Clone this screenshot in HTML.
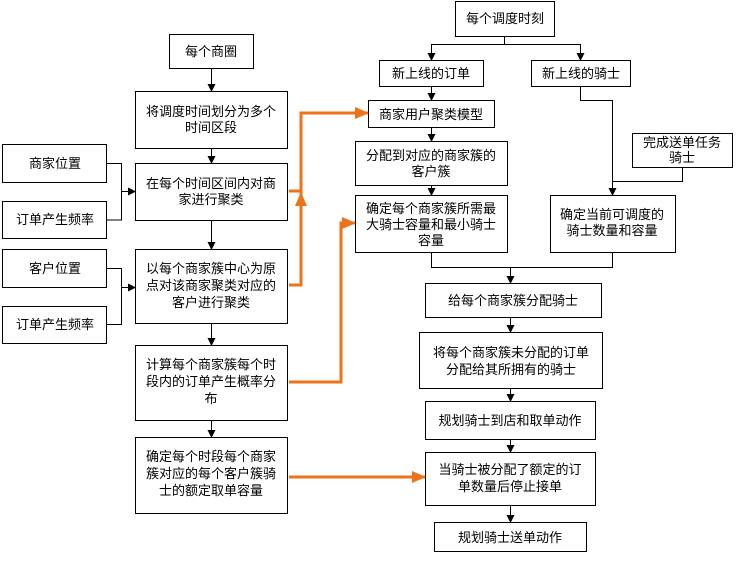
<!DOCTYPE html>
<html><head><meta charset="utf-8"><style>
body{margin:0;background:#fff}
svg text{font-family:"Liberation Sans","Noto Sans CJK SC",sans-serif;font-size:13px;fill:#000;text-anchor:middle}
</style></head><body>
<svg width="739" height="557" viewBox="0 0 739 557" xmlns="http://www.w3.org/2000/svg">
<defs>
<marker id="a" markerWidth="8" markerHeight="8" refX="7" refY="4" orient="auto" markerUnits="userSpaceOnUse"><path d="M0,0 L8,4 L0,8 z" fill="#000"/></marker>
<marker id="o" markerWidth="14" markerHeight="12" refX="13" refY="6" orient="auto" markerUnits="userSpaceOnUse"><path d="M0,0 L14,6 L0,12 z" fill="#ee7318"/></marker>
</defs>
<g fill="#fff" stroke="#000" stroke-width="1">
<rect x="169.5" y="34.5" width="84" height="34"/>
<rect x="135.5" y="91.5" width="152" height="57"/>
<rect x="135.5" y="163.5" width="152" height="57"/>
<rect x="135.5" y="249.5" width="152" height="74"/>
<rect x="135.5" y="345.5" width="152" height="75"/>
<rect x="135.5" y="437.5" width="152" height="76"/>
<rect x="2.5" y="144.5" width="104" height="38"/>
<rect x="2.5" y="201.5" width="104" height="37"/>
<rect x="2.5" y="249.5" width="104" height="38"/>
<rect x="2.5" y="306.5" width="104" height="37"/>
<rect x="455.5" y="1.5" width="99" height="35"/>
<rect x="379.5" y="60.5" width="104" height="26"/>
<rect x="531.5" y="60.5" width="99" height="26"/>
<rect x="368.5" y="100.5" width="126" height="27"/>
<rect x="355.5" y="141.5" width="152" height="44"/>
<rect x="355.5" y="195.5" width="152" height="57"/>
<rect x="632.5" y="133.5" width="100" height="34"/>
<rect x="550.5" y="195.5" width="125" height="57"/>
<rect x="425.5" y="283.5" width="176" height="34"/>
<rect x="419.5" y="332.5" width="183" height="56"/>
<rect x="425.5" y="401.5" width="170" height="38"/>
<rect x="425.5" y="452.5" width="170" height="53"/>
<rect x="434.5" y="522.5" width="152" height="29"/>
</g>
<g fill="none" stroke="#000" stroke-width="1">
<path d="M211.5,68 V91" marker-end="url(#a)"/>
<path d="M211.5,148 V163" marker-end="url(#a)"/>
<path d="M211.5,220 V249" marker-end="url(#a)"/>
<path d="M211.5,323 V345" marker-end="url(#a)"/>
<path d="M211.5,420 V437" marker-end="url(#a)"/>
<path d="M106,163.5 H121.5 V220 H106 M121.5,191.5 H135" />
<path d="M121,191.5 H135" marker-end="url(#a)"/>
<path d="M106,268.5 H121.5 V324.5 H106"/>
<path d="M121,287.5 H135" marker-end="url(#a)"/>
<path d="M504.5,36 V44.5 H431.5 V60 M504.5,44.5 H580.5 V60"/>
<path d="M431.5,50 V60" marker-end="url(#a)"/>
<path d="M580.5,50 V60" marker-end="url(#a)"/>
<path d="M431.5,86 V100" marker-end="url(#a)"/>
<path d="M431.5,127 V141" marker-end="url(#a)"/>
<path d="M431.5,185 V195" marker-end="url(#a)"/>
<path d="M580.5,86 V100.5 H612.5 V195"/>
<path d="M612.5,180 V195" marker-end="url(#a)"/>
<path d="M682.5,167 V181.5 H612.5"/>
<path d="M431.5,252 V267.5 H612.5 V252 M510.5,267.5 V283"/>
<path d="M510.5,270 V283" marker-end="url(#a)"/>
<path d="M510.5,317 V332" marker-end="url(#a)"/>
<path d="M510.5,388 V401" marker-end="url(#a)"/>
<path d="M510.5,439 V452" marker-end="url(#a)"/>
<path d="M510.5,505 V522" marker-end="url(#a)"/>
</g>
<g fill="none" stroke="#ee7318" stroke-width="3">
<path d="M289,191 H301"/>
<path d="M289,285 H301 V113 H368" marker-end="url(#o)"/>
<path d="M301,240 V193" marker-end="url(#o)"/>
<path d="M289,382 H341 V223 H355" marker-end="url(#o)"/>
<path d="M289,477 H425" marker-end="url(#o)"/>
</g>
<text x="211" y="56">每个商圈</text>
<text x="211" y="116">将调度时间划分为多个</text><text x="211" y="132">时间区段</text>
<text x="211" y="188">在每个时间区间内对商</text><text x="211" y="204">家进行聚类</text>
<text x="211" y="273">以每个商家簇中心为原</text><text x="211" y="290">点对该商家聚类对应的</text><text x="211" y="307">客户进行聚类</text>
<text x="211" y="369">计算每个商家簇每个时</text><text x="211" y="386">段内的订单产生概率分</text><text x="211" y="403">布</text>
<text x="211" y="461">确定每个时段每个商家</text><text x="211" y="478">簇对应的每个客户簇骑</text><text x="211" y="495">士的额定取单容量</text>
<text x="55" y="168">商家位置</text>
<text x="55" y="224">订单产生频率</text>
<text x="55" y="273">客户位置</text>
<text x="55" y="329">订单产生频率</text>
<text x="505" y="23">每个调度时刻</text>
<text x="431" y="78">新上线的订单</text>
<text x="581" y="78">新上线的骑士</text>
<text x="431" y="119">商家用户聚类模型</text>
<text x="431" y="160">分配到对应的商家簇的</text><text x="431" y="176">客户簇</text>
<text x="431" y="213">确定每个商家簇所需最</text><text x="431" y="229">大骑士容量和最小骑士</text><text x="431" y="245">容量</text>
<text x="682" y="147">完成送单任务</text><text x="682" y="162">骑士</text>
<text x="612" y="219">确定当前可调度的</text><text x="612" y="235">骑士数量和容量</text>
<text x="513" y="305">给每个商家簇分配骑士</text>
<text x="511" y="357">将每个商家簇未分配的订单</text><text x="511" y="374">分配给其所拥有的骑士</text>
<text x="510" y="425">规划骑士到店和取单动作</text>
<text x="510" y="474">当骑士被分配了额定的订</text><text x="510" y="491">单数量后停止接单</text>
<text x="510" y="542">规划骑士送单动作</text>
</svg>
</body></html>
